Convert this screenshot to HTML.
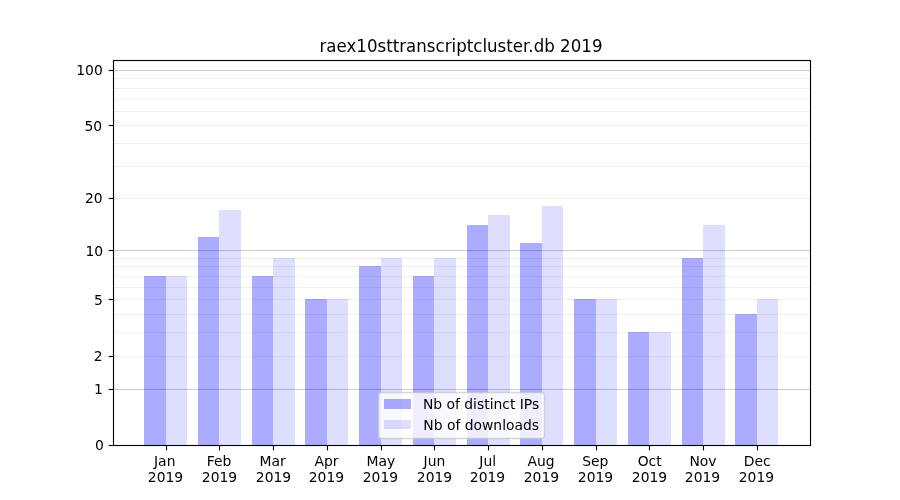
<!DOCTYPE html>
<html lang="en"><head><meta charset="utf-8"><title>raex10sttranscriptcluster.db 2019</title>
<style>html,body{margin:0;padding:0;background:#fff;overflow:hidden}svg{display:block}</style></head>
<body>
<svg width="900" height="500" viewBox="0 0 900 500">
<rect x="0" y="0" width="900" height="500" fill="#fff"/>
<g shape-rendering="crispEdges">
<rect x="144" y="276" width="22" height="169" fill="#0000ff" fill-opacity="0.33"/>
<rect x="198" y="237" width="21" height="208" fill="#0000ff" fill-opacity="0.33"/>
<rect x="252" y="276" width="21" height="169" fill="#0000ff" fill-opacity="0.33"/>
<rect x="305" y="299" width="22" height="146" fill="#0000ff" fill-opacity="0.33"/>
<rect x="359" y="266" width="22" height="179" fill="#0000ff" fill-opacity="0.33"/>
<rect x="413" y="276" width="21" height="169" fill="#0000ff" fill-opacity="0.33"/>
<rect x="467" y="225" width="21" height="220" fill="#0000ff" fill-opacity="0.33"/>
<rect x="520" y="243" width="22" height="202" fill="#0000ff" fill-opacity="0.33"/>
<rect x="574" y="299" width="22" height="146" fill="#0000ff" fill-opacity="0.33"/>
<rect x="628" y="332" width="21" height="113" fill="#0000ff" fill-opacity="0.33"/>
<rect x="682" y="258" width="21" height="187" fill="#0000ff" fill-opacity="0.33"/>
<rect x="735" y="314" width="22" height="131" fill="#0000ff" fill-opacity="0.33"/>
<rect x="166" y="276" width="21" height="169" fill="#0000ff" fill-opacity="0.13"/>
<rect x="219" y="210" width="22" height="235" fill="#0000ff" fill-opacity="0.13"/>
<rect x="273" y="258" width="22" height="187" fill="#0000ff" fill-opacity="0.13"/>
<rect x="327" y="299" width="21" height="146" fill="#0000ff" fill-opacity="0.13"/>
<rect x="381" y="258" width="21" height="187" fill="#0000ff" fill-opacity="0.13"/>
<rect x="434" y="258" width="22" height="187" fill="#0000ff" fill-opacity="0.13"/>
<rect x="488" y="215" width="22" height="230" fill="#0000ff" fill-opacity="0.13"/>
<rect x="542" y="206" width="21" height="239" fill="#0000ff" fill-opacity="0.13"/>
<rect x="596" y="299" width="21" height="146" fill="#0000ff" fill-opacity="0.13"/>
<rect x="649" y="332" width="22" height="113" fill="#0000ff" fill-opacity="0.13"/>
<rect x="703" y="225" width="22" height="220" fill="#0000ff" fill-opacity="0.13"/>
<rect x="757" y="299" width="21" height="146" fill="#0000ff" fill-opacity="0.13"/>
</g>
<g shape-rendering="crispEdges" fill="#000">
<rect x="113" y="356" width="697" height="1" fill-opacity="0.06"/>
<rect x="113" y="332" width="697" height="1" fill-opacity="0.06"/>
<rect x="113" y="314" width="697" height="1" fill-opacity="0.06"/>
<rect x="113" y="299" width="697" height="1" fill-opacity="0.06"/>
<rect x="113" y="287" width="697" height="1" fill-opacity="0.06"/>
<rect x="113" y="276" width="697" height="1" fill-opacity="0.06"/>
<rect x="113" y="266" width="697" height="1" fill-opacity="0.06"/>
<rect x="113" y="258" width="697" height="1" fill-opacity="0.06"/>
<rect x="113" y="198" width="697" height="1" fill-opacity="0.06"/>
<rect x="113" y="166" width="697" height="1" fill-opacity="0.06"/>
<rect x="113" y="143" width="697" height="1" fill-opacity="0.06"/>
<rect x="113" y="125" width="697" height="1" fill-opacity="0.06"/>
<rect x="113" y="111" width="697" height="1" fill-opacity="0.06"/>
<rect x="113" y="99" width="697" height="1" fill-opacity="0.06"/>
<rect x="113" y="88" width="697" height="1" fill-opacity="0.06"/>
<rect x="113" y="78" width="697" height="1" fill-opacity="0.06"/>
<rect x="113" y="389" width="697" height="1" fill-opacity="0.2"/>
<rect x="113" y="250" width="697" height="1" fill-opacity="0.2"/>
<rect x="113" y="70" width="697" height="1" fill-opacity="0.2"/>
</g>
<g stroke="#000" stroke-width="1.111">
<line x1="166.5" y1="445.5" x2="166.5" y2="450.36"/>
<line x1="219.5" y1="445.5" x2="219.5" y2="450.36"/>
<line x1="273.5" y1="445.5" x2="273.5" y2="450.36"/>
<line x1="327.5" y1="445.5" x2="327.5" y2="450.36"/>
<line x1="381.5" y1="445.5" x2="381.5" y2="450.36"/>
<line x1="434.5" y1="445.5" x2="434.5" y2="450.36"/>
<line x1="488.5" y1="445.5" x2="488.5" y2="450.36"/>
<line x1="542.5" y1="445.5" x2="542.5" y2="450.36"/>
<line x1="596.5" y1="445.5" x2="596.5" y2="450.36"/>
<line x1="649.5" y1="445.5" x2="649.5" y2="450.36"/>
<line x1="703.5" y1="445.5" x2="703.5" y2="450.36"/>
<line x1="757.5" y1="445.5" x2="757.5" y2="450.36"/>
<line x1="113.5" y1="445.5" x2="108.64" y2="445.5"/>
<line x1="113.5" y1="389.5" x2="108.64" y2="389.5"/>
<line x1="113.5" y1="356.5" x2="108.64" y2="356.5"/>
<line x1="113.5" y1="299.5" x2="108.64" y2="299.5"/>
<line x1="113.5" y1="250.5" x2="108.64" y2="250.5"/>
<line x1="113.5" y1="198.5" x2="108.64" y2="198.5"/>
<line x1="113.5" y1="125.5" x2="108.64" y2="125.5"/>
<line x1="113.5" y1="70.5" x2="108.64" y2="70.5"/>
</g>
<g stroke="#000" stroke-width="1.111" stroke-linecap="square" fill="none">
<rect x="113.5" y="60.5" width="697" height="385"/>
</g>
<g font-family="'DejaVu Sans','Liberation Sans',sans-serif" font-size="13.889px" fill="#000">
<text x="164.74" y="466.28" text-anchor="middle">Jan</text>
<text x="165.50" y="481.83" text-anchor="middle">2019</text>
<text x="218.97" y="466.28" text-anchor="middle">Feb</text>
<text x="219.48" y="481.83" text-anchor="middle">2019</text>
<text x="272.70" y="466.28" text-anchor="middle">Mar</text>
<text x="273.47" y="481.83" text-anchor="middle">2019</text>
<text x="326.43" y="466.28" text-anchor="middle">Apr</text>
<text x="326.45" y="481.83" text-anchor="middle">2019</text>
<text x="380.93" y="466.28" text-anchor="middle">May</text>
<text x="380.45" y="481.83" text-anchor="middle">2019</text>
<text x="434.42" y="466.28" text-anchor="middle">Jun</text>
<text x="434.47" y="481.83" text-anchor="middle">2019</text>
<text x="487.74" y="466.28" text-anchor="middle">Jul</text>
<text x="487.47" y="481.83" text-anchor="middle">2019</text>
<text x="541.13" y="466.28" text-anchor="middle">Aug</text>
<text x="541.44" y="481.83" text-anchor="middle">2019</text>
<text x="595.34" y="466.28" text-anchor="middle">Sep</text>
<text x="595.51" y="481.83" text-anchor="middle">2019</text>
<text x="649.68" y="466.28" text-anchor="middle">Oct</text>
<text x="649.50" y="481.83" text-anchor="middle">2019</text>
<text x="703.04" y="466.28" text-anchor="middle">Nov</text>
<text x="702.48" y="481.83" text-anchor="middle">2019</text>
<text x="757.15" y="466.28" text-anchor="middle">Dec</text>
<text x="756.46" y="481.83" text-anchor="middle">2019</text>
<text x="103.74" y="450.28" text-anchor="end">0</text>
<text x="102.94" y="393.93" text-anchor="end">1</text>
<text x="102.66" y="360.98" text-anchor="end">2</text>
<text x="102.78" y="304.63" text-anchor="end">5</text>
<text x="103.21" y="256.36" text-anchor="end">10</text>
<text x="102.62" y="202.80" text-anchor="end">20</text>
<text x="102.20" y="130.68" text-anchor="end">50</text>
<text x="102.74" y="75.14" text-anchor="end">100</text>
</g>
<text transform="translate(460.97 51.67) scale(1 1.085)" x="0" y="0" text-anchor="middle" font-family="'DejaVu Sans','Liberation Sans',sans-serif" font-size="16.667px" fill="#000">raex10sttranscriptcluster.db 2019</text>
<rect x="378.50" y="392.50" width="166.00" height="46.00" rx="2.78" ry="2.78" fill="#fff" stroke="#ccc" stroke-width="1.389" opacity="0.8"/>
<rect x="384" y="399" width="27" height="10" fill="#0000ff" fill-opacity="0.33" shape-rendering="crispEdges"/>
<text x="422.93" y="408.56" font-family="'DejaVu Sans','Liberation Sans',sans-serif" font-size="13.889px" fill="#000">Nb of distinct IPs</text>
<rect x="384" y="420" width="27" height="9" fill="#0000ff" fill-opacity="0.13" shape-rendering="crispEdges"/>
<text x="423.32" y="429.50" font-family="'DejaVu Sans','Liberation Sans',sans-serif" font-size="13.889px" fill="#000">Nb of downloads</text>
</svg>
</body></html>
